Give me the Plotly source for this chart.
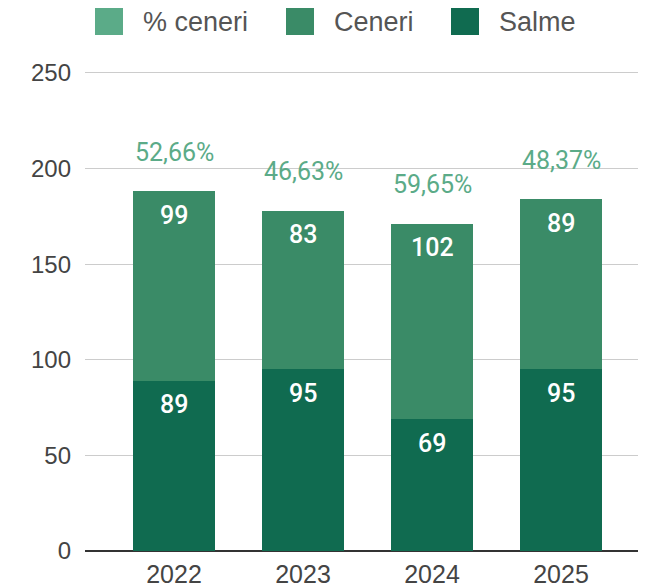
import plotly.graph_objects as go

anni = ["2022", "2023", "2024", "2025"]
salme = [89, 95, 69, 95]
ceneri = [99, 83, 102, 89]
perc_ceneri = ["52,66%", "46,63%", "59,65%", "48,37%"]

legend_names = ["% ceneri", "Ceneri", "Salme"]
c_perc = "#5bab88"
c_ceneri = "#3a8b67"
c_salme = "#106b50"

# la pagina ha 8px di margine nel body
L, T, B = 77, 63, 44
W, H = 646, 587
pw, ph = W - L, H - T - B

fig = go.Figure()
fig.add_trace(go.Bar(x=anni, y=salme, name="Salme", marker_color=c_salme,
                     marker_line_width=0, showlegend=False))
fig.add_trace(go.Bar(x=anni, y=ceneri, name="Ceneri", marker_color=c_ceneri,
                     marker_line_width=0, showlegend=False))

totali = [s + c for s, c in zip(salme, ceneri)]
lab_font = dict(color="white", size=25, family="Roboto", weight=500)
# su asse a categorie le annotazioni usano l'indice della categoria
for i, (s, t, c, p) in enumerate(zip(salme, totali, ceneri, perc_ceneri)):
    fig.add_annotation(x=i, y=s, text=str(s), showarrow=False, yshift=-24, font=lab_font)
    fig.add_annotation(x=i, y=t, text=str(c), showarrow=False, yshift=-24, font=lab_font)
    fig.add_annotation(x=i, y=t, text=p, showarrow=False, yshift=39,
                       font=dict(color=c_perc, size=25, family="Roboto"))

# legenda disegnata a mano (quadrati grandi)
leg_x = [95, 286, 451]
leg_colors = [c_perc, c_ceneri, c_salme]
for lx, name, col in zip(leg_x, legend_names, leg_colors):
    fx = lx - 8
    fig.add_shape(type="rect", xref="paper", yref="paper",
                  x0=(fx - L) / pw, x1=(fx + 28 - L) / pw,
                  y0=(H - B - (35 - 8)) / ph, y1=(H - B - (8 - 8)) / ph,
                  fillcolor=col, line=dict(width=0), layer="above")
    fig.add_annotation(xref="paper", yref="paper", x=(fx + 46 - L) / pw,
                       y=(H - B - (22 - 8)) / ph, xanchor="left", yanchor="middle",
                       text=name, showarrow=False,
                       font=dict(size=27, color="#555555", family="Liberation Sans"))

fig.update_layout(
    width=W, height=H,
    margin=dict(l=L, r=0, t=T, b=B),
    barmode="stack", bargap=0.36,
    plot_bgcolor="white", paper_bgcolor="white",
    showlegend=False,
    font=dict(family="Liberation Sans", size=24, color="#444444"),
)
fig.update_xaxes(type="category", range=[-0.69, -0.69 + pw / 129], showgrid=False, ticks="",
                 ticklabelstandoff=6, tickfont=dict(size=25, color="#444444"))
fig.update_yaxes(range=[0, 251], tickvals=[0, 50, 100, 150, 200, 250],
                 gridcolor="#cccccc", gridwidth=1,
                 zeroline=True, zerolinecolor="#333333", zerolinewidth=2,
                 ticks="", ticklabelstandoff=13,
                 tickfont=dict(size=24, color="#444444"))

fig.write_html("out.html")
